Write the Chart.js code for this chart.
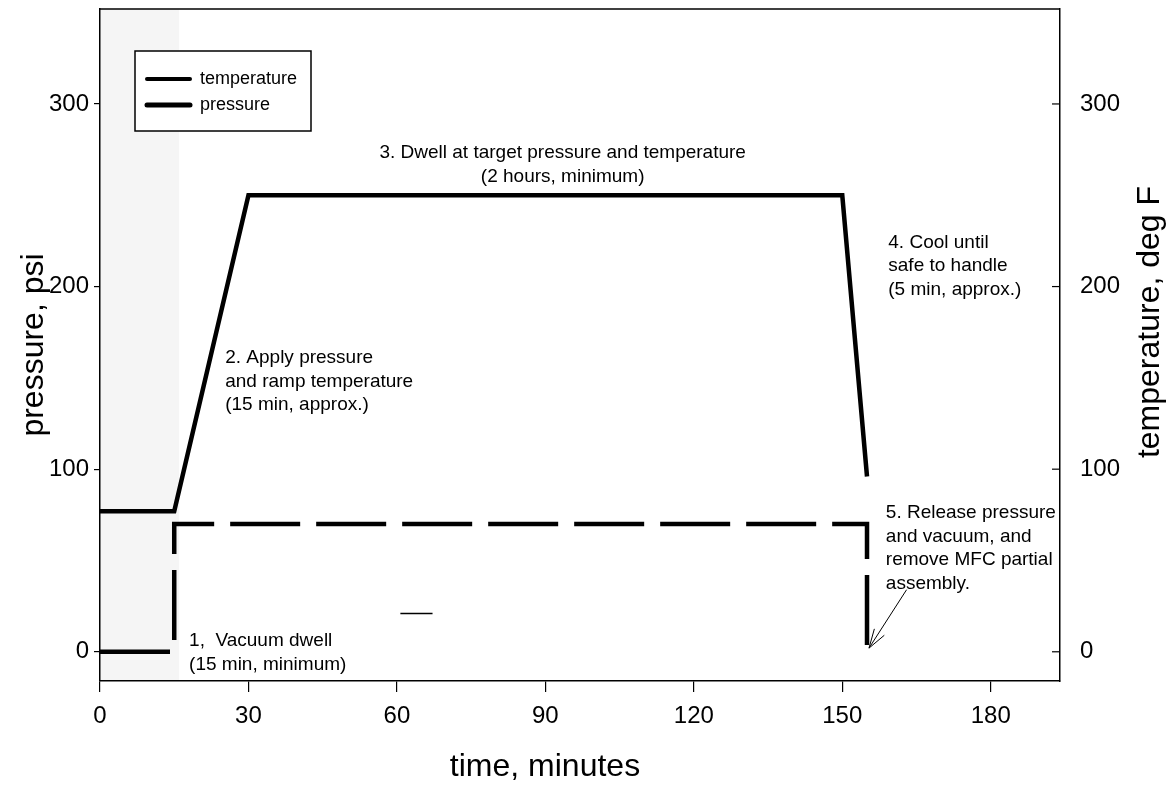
<!DOCTYPE html>
<html>
<head>
<meta charset="utf-8">
<script src="https://cdn.jsdelivr.net/npm/chart.js@4.4.1/dist/chart.umd.min.js"></script>
<style>
  html, body { margin: 0; padding: 0; background: #fff; }
  #wrap { width: 1173px; height: 793px; position: relative; }
</style>
</head>
<body>
<div id="wrap"><canvas id="cure"></canvas></div>
<script>
// cure cycle
const timeTemp = [0, 15, 30, 150, 155];
const temperature = [77, 77, 250, 250, 96];
const timePressure = [0, 15, 15, 155, 155];
const pressure = [0, 0, 70, 70, 0];
const timeTicks = [0, 30, 60, 90, 120, 150, 180];
const valueTicks = [0, 100, 200, 300];

const FONT = '"Liberation Sans", Arial, sans-serif';

// step notes, anchored in data units (minutes, psi)
const notes = [
  { lines: ['1,  Vacuum dwell', '(15 min, minimum)'], x: 18, y: 6, align: 'left' },
  { lines: ['2. Apply pressure', 'and ramp temperature', '(15 min, approx.)'], x: 25.3, y: 161, align: 'left' },
  { lines: ['3. Dwell at target pressure and temperature', '(2 hours, minimum)'], x: 93.5, y: 273, align: 'center' },
  { lines: ['4. Cool until', 'safe to handle', '(5 min, approx.)'], x: 159.3, y: 224, align: 'left' },
  { lines: ['5. Release pressure', 'and vacuum, and', 'remove MFC partial', 'assembly.'], x: 158.8, y: 76, align: 'left' }
];

const frame = {
  id: 'frame',
  beforeDatasetsDraw(chart) {
    const { ctx, chartArea: a, scales } = chart;
    // scanned grey speckle on the left strip
    ctx.save();
    ctx.fillStyle = 'rgba(0,0,0,0.04)';
    const x1 = scales.x.getPixelForValue(16);
    ctx.fillRect(a.left, a.top, x1 - a.left, a.bottom - a.top);
    ctx.restore();
  },
  afterDraw(chart) {
    const { ctx, chartArea: a, scales } = chart;
    const x = scales.x, y = scales.y, y2 = scales.y2;
    ctx.save();
    ctx.strokeStyle = '#000';
    ctx.lineWidth = 1.5;
    ctx.beginPath();
    ctx.moveTo(a.left, a.top);
    ctx.lineTo(a.right, a.top);
    ctx.stroke();

    // right axis ticks point inward
    ctx.lineWidth = 1.2;
    valueTicks.forEach(v => {
      const py = y2.getPixelForValue(v);
      ctx.beginPath();
      ctx.moveTo(a.right - 8, py);
      ctx.lineTo(a.right, py);
      ctx.stroke();
    });

    // right axis title, read bottom to top
    ctx.fillStyle = '#000';
    ctx.font = '32px ' + FONT;
    ctx.textAlign = 'center';
    ctx.textBaseline = 'middle';
    ctx.save();
    ctx.translate(1150, 322);
    ctx.rotate(-Math.PI / 2);
    ctx.fillText('temperature, deg F', 0, 0);
    ctx.restore();

    // bottom title sits a little left of the plot centre
    ctx.fillText('time, minutes', 545, 767);
    ctx.restore();

    // notes
    ctx.save();
    ctx.fillStyle = '#000';
    ctx.font = '19px ' + FONT;
    ctx.textBaseline = 'middle';
    notes.forEach(n => {
      ctx.textAlign = n.align;
      const px = x.getPixelForValue(n.x);
      const py = y.getPixelForValue(n.y);
      n.lines.forEach((t, i) => ctx.fillText(t, px, py + i * 23.5));
    });

    // arrow to the end of the pressure release
    const ax = x.getPixelForValue(163), ay = y.getPixelForValue(34);
    const tx = x.getPixelForValue(155.4), ty = y.getPixelForValue(2);
    ctx.strokeStyle = '#000';
    ctx.lineWidth = 1;
    ctx.beginPath();
    ctx.moveTo(ax, ay);
    ctx.lineTo(tx, ty);
    const ang = Math.atan2(ty - ay, tx - ax);
    [0.3, -0.3].forEach(d => {
      ctx.moveTo(tx, ty);
      ctx.lineTo(tx - 20 * Math.cos(ang + d), ty - 20 * Math.sin(ang + d));
    });
    ctx.stroke();

    // stray short stroke in the scan
    ctx.lineWidth = 1.5;
    ctx.beginPath();
    ctx.moveTo(x.getPixelForValue(60.7), y.getPixelForValue(21));
    ctx.lineTo(x.getPixelForValue(67.2), y.getPixelForValue(21));
    ctx.stroke();

    // legend box in the upper left
    const lx = 135, ly = 51, lw = 176, lh = 80;
    ctx.fillStyle = '#fff';
    ctx.fillRect(lx, ly, lw, lh);
    ctx.lineWidth = 1.5;
    ctx.strokeRect(lx, ly, lw, lh);
    ctx.textAlign = 'left';
    ctx.font = '18px ' + FONT;
    chart.data.datasets.forEach((ds, i) => {
      const sy = ly + 28 + i * 26;
      ctx.strokeStyle = ds.borderColor;
      ctx.lineWidth = i === 0 ? 4 : 5;
      ctx.lineCap = 'round';
      ctx.beginPath();
      ctx.moveTo(lx + 12, sy);
      ctx.lineTo(lx + 55, sy);
      ctx.stroke();
      ctx.fillStyle = '#000';
      ctx.fillText(ds.label, lx + 65, sy);
    });
    ctx.restore();
  }
};

const tickFont = { family: FONT, size: 24 };
const noPad = s => { s.paddingTop = 0; s.paddingBottom = 0; };

new Chart(document.getElementById('cure'), {
  type: 'line',
  data: {
    datasets: [
      {
        label: 'temperature',
        data: timeTemp.map((t, i) => ({ x: t, y: temperature[i] })),
        yAxisID: 'y2',
        borderColor: '#000',
        borderWidth: 4.5,
        pointRadius: 0,
        tension: 0,
        borderJoinStyle: 'miter'
      },
      {
        label: 'pressure',
        data: timePressure.map((t, i) => ({ x: t, y: pressure[i] })),
        yAxisID: 'y',
        borderColor: '#000',
        borderWidth: 4.5,
        borderDash: [70, 16],
        pointRadius: 0,
        tension: 0,
        borderJoinStyle: 'miter'
      }
    ]
  },
  options: {
    responsive: true,
    maintainAspectRatio: false,
    animation: false,
    layout: { padding: { top: 9, left: 0, right: 0, bottom: 0 } },
    plugins: {
      legend: { display: false },
      tooltip: { enabled: false }
    },
    events: [],
    scales: {
      x: {
        type: 'linear',
        min: 0,
        max: 194,
        afterBuildTicks: s => { s.ticks = timeTicks.map(v => ({ value: v })); },
        afterFit: s => { s.height = 112; },
        grid: { drawOnChartArea: false, color: '#000', tickLength: 11, lineWidth: 1.2 },
        border: { color: '#000', width: 1.5 },
        ticks: { color: '#000', font: tickFont, padding: 10, maxRotation: 0 }
      },
      y: {
        position: 'left',
        min: -16,
        max: 352,
        afterBuildTicks: s => { s.ticks = valueTicks.map(v => ({ value: v })); },
        afterFit: s => { s.width = 100; noPad(s); },
        grid: { drawOnChartArea: false, color: '#000', tickLength: 6, lineWidth: 1.2 },
        border: { color: '#000', width: 1.5 },
        ticks: { color: '#000', font: tickFont, padding: 5 },
        title: { display: true, text: 'pressure, psi', color: '#000',
                 font: { family: FONT, size: 32 }, padding: { top: 15, bottom: 0 } }
      },
      y2: {
        position: 'right',
        min: -16,
        max: 352,
        afterBuildTicks: s => { s.ticks = valueTicks.map(v => ({ value: v })); },
        afterFit: s => { s.width = 113; noPad(s); },
        grid: { display: false },
        border: { color: '#000', width: 1.5 },
        ticks: { color: '#000', font: tickFont, padding: 12 }
      }
    }
  },
  plugins: [frame]
});
</script>
</body>
</html>
